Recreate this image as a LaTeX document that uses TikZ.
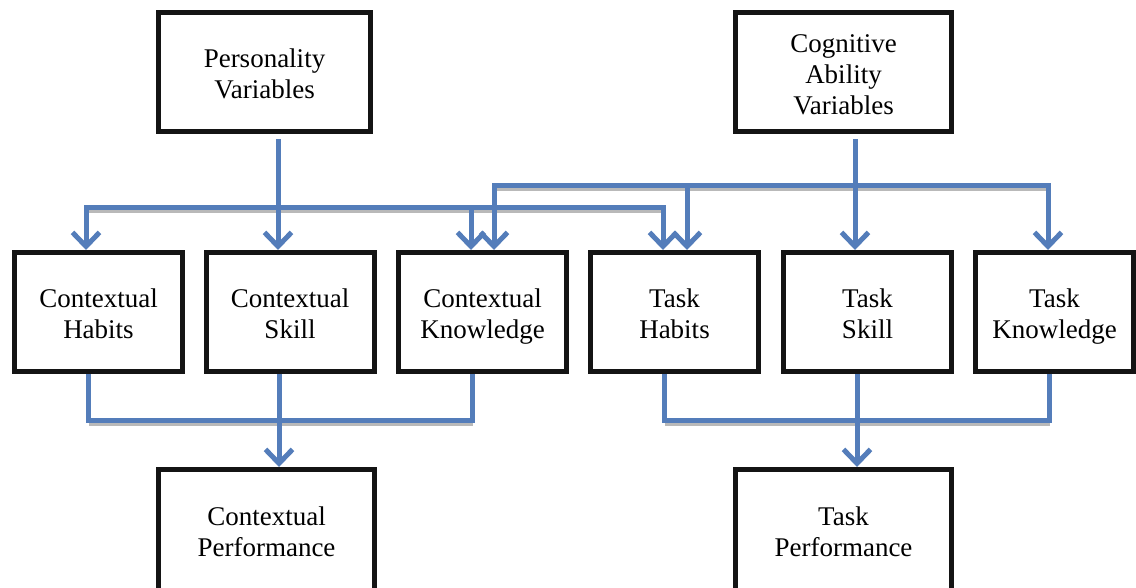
\documentclass[tikz,border=0pt]{standalone}
\usepackage{fontspec}
\setmainfont{Liberation Serif}
\usetikzlibrary{arrows.meta,calc}
\definecolor{connblue}{RGB}{84,125,186}
\definecolor{boxline}{RGB}{20,20,20}
\newcommand\upstrut{\rule{0pt}{32pt}}
\begin{document}
\begin{tikzpicture}[x=1pt,y=-1pt,
  box/.style={draw=boxline,line width=5pt,inner sep=0pt,align=center,
    font=\fontsize{27}{31}\selectfont, execute at end node=\strut},
  midbox/.style={box,minimum width=168pt,minimum height=119pt},
  link/.style={draw=connblue,line width=5pt,line join=miter},
  tipend/.tip={Straight Barb[length=14pt,width=27pt]},
  arr/.style={link,-tipend},
  arrs/.style={link,tipend-tipend},
  shade/.style={draw=gray!55,line width=3pt},
]
\useasboundingbox (0,0) rectangle (1136,587);
\clip (0,0) rectangle (1136,587);

% boxes
\node[box,minimum width=212pt,minimum height=119pt] (pv) at (264.5,72) {\upstrut Personality\\Variables};
\node[box,minimum width=216pt,minimum height=119pt] (cv) at (843.5,72) {\upstrut Cognitive\\Ability\\Variables};

\node[midbox] (c1) at (98.5,312) {\upstrut Contextual\\Habits};
\node[midbox] (c2) at (290,312) {\upstrut Contextual\\Skill};
\node[midbox] (c3) at (482.5,312) {\upstrut Contextual\\Knowledge};
\node[midbox] (c4) at (674.5,312) {\upstrut Task\\Habits};
\node[midbox] (c5) at (867.5,312) {\upstrut Task\\Skill};
\node[box,minimum width=158pt,minimum height=119pt] (c6) at (1054.5,312) {\upstrut Task\\Knowledge};

\node[box,minimum width=216pt,minimum height=121pt] (cp) at (266.5,530) {\upstrut Contextual\\Performance};
\node[box,minimum width=216pt,minimum height=121pt] (tp) at (843.5,530) {\upstrut Task\\Performance};

% reference coordinates
\coordinate (xa) at (86,0);
\coordinate (xb) at (278,0);
\coordinate (xc) at (471,0);
\coordinate (xd) at (494,0);
\coordinate (xe) at (663,0);
\coordinate (xf) at (687,0);
\coordinate (xg) at (855,0);
\coordinate (xh) at (1048,0);
\coordinate (ya) at (88,0);
\coordinate (yb) at (279,0);
\coordinate (yc) at (472,0);
\coordinate (yd) at (664,0);
\coordinate (ye) at (857,0);
\coordinate (yf) at (1049,0);
\coordinate (h1) at (0,207);
\coordinate (h2) at (0,185);
\coordinate (h3) at (0,420);

% shadows
\draw[shade] ([shift={(1pt,-4pt)}]xa|-h1) -- ([shift={(1pt,-4pt)}]xe|-h1);
\draw[shade] ([shift={(1pt,-4pt)}]xd|-h2) -- ([shift={(1pt,-4pt)}]xh|-h2);
\draw[shade] ([shift={(1pt,-4pt)}]ya|-h3) -- ([shift={(1pt,-4pt)}]yc|-h3);
\draw[shade] ([shift={(1pt,-4pt)}]yd|-h3) -- ([shift={(1pt,-4pt)}]yf|-h3);

% personality connectors
\draw[arr] ([yshift=-5pt]pv.south -| xb) -- (xb |- c2.north);
\draw[arrs] (xa |- c1.north) -- (xa |- h1) -- (xe |- h1) -- (xe |- c4.north);
\draw[arr] (xc |- h1) -- (xc |- c3.north);

% cognitive connectors
\draw[arr] ([yshift=-5pt]cv.south -| xg) -- (xg |- c5.north);
\draw[arrs] (xd |- c3.north) -- (xd |- h2) -- (xh |- h2) -- (xh |- c6.north);
\draw[arr] (xf |- h2) -- (xf |- c4.north);

% performance connectors
\draw[link] (c1.south -| ya) -- (ya |- h3) -- (yc |- h3) -- (c3.south -| yc);
\draw[arr] (c2.south -| yb) -- (yb |- cp.north);
\draw[link] (c4.south -| yd) -- (yd |- h3) -- (yf |- h3) -- (c6.south -| yf);
\draw[arr] (c5.south -| ye) -- (ye |- tp.north);
\end{tikzpicture}
\end{document}
